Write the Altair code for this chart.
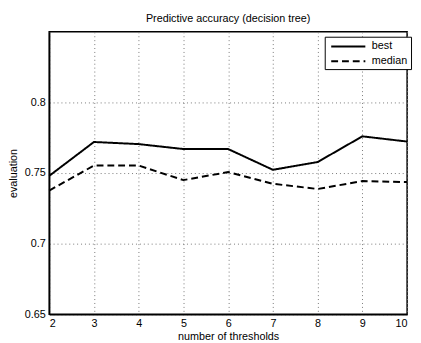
import altair as alt
import pandas as pd

thresholds = [2, 3, 4, 5, 6, 7, 8, 9, 10]
best = [0.748, 0.772, 0.7705, 0.767, 0.767, 0.7523, 0.7578, 0.776, 0.7723]
median = [0.7376, 0.7553, 0.7553, 0.745, 0.7507, 0.7424, 0.7387, 0.7443, 0.7436]
series = ["best", "median"]
y_ticks = [0.65, 0.7, 0.75, 0.8]

rows = []
for i, t in enumerate(thresholds):
    rows.append({"t": t, "v": best[i], "s": series[0]})
    rows.append({"t": t, "v": median[i], "s": series[1]})
df = pd.DataFrame(rows)

FONT = "Liberation Sans"

chart = alt.Chart(df).mark_line(strokeWidth=2, color="black").encode(
    x=alt.X("t:Q", scale=alt.Scale(domain=[2, 10], nice=False),
            axis=alt.Axis(title="number of thresholds", values=thresholds, format="d",
                          grid=True, gridDash=[1, 3], gridColor="#777777",
                          labelPadding=4, titlePadding=2, ticks=False)),
    y=alt.Y("v:Q", scale=alt.Scale(domain=[0.65, 0.85], nice=False, zero=False),
            axis=alt.Axis(title="evaluation", values=y_ticks, format="~g",
                          grid=True, gridDash=[1, 3], gridColor="#777777",
                          labelPadding=4, titlePadding=6, ticks=False)),
    strokeDash=alt.StrokeDash("s:N", scale=alt.Scale(domain=series, range=[[1, 0], [7, 4]]),
                              legend=alt.Legend(title=None, orient="none", legendX=281, legendY=5,
                                                symbolType="M-2.9,0H2.9", symbolStrokeWidth=2,
                                                symbolStrokeColor="black", symbolSize=144,
                                                strokeColor="black", fillColor="white",
                                                padding=3, rowPadding=3,
                                                labelFontSize=11, labelFont=FONT, labelColor="black",
                                                symbolOffset=14, labelOffset=17)),
).properties(
    width=365, height=288,
    title=alt.TitleParams("Predictive accuracy (decision tree)", font=FONT, fontSize=11,
                          fontWeight="normal", color="black", offset=8),
    autosize="none",
    padding={"left": 42, "top": 21, "right": 6, "bottom": 26},
).configure_view(
    stroke="black", strokeWidth=1.5
).configure_axis(
    labelFont=FONT, titleFont=FONT, labelFontSize=11, titleFontSize=11,
    labelColor="black", titleColor="black", titleFontWeight="normal",
    domainColor="black", domainWidth=1.5
)

chart.save("out.html", embed_options={"renderer": "svg", "actions": False})
